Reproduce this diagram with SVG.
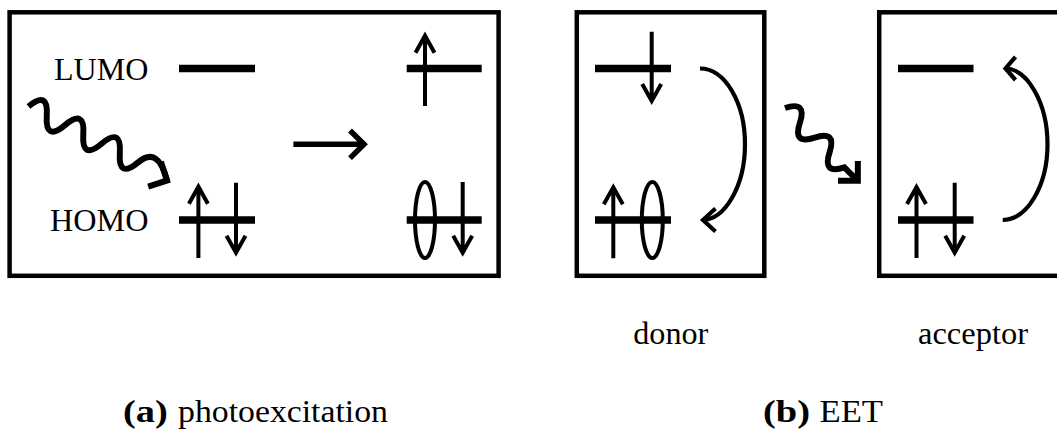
<svg xmlns="http://www.w3.org/2000/svg" width="1057" height="430" viewBox="0 0 1057 430">
<style>
.box{fill:none;stroke:#000;stroke-width:4.5}
.lvl{fill:none;stroke:#000;stroke-width:7.5}
.spin{fill:none;stroke:#000;stroke-width:4;stroke-linejoin:miter}
.wave{fill:none;stroke:#000;stroke-width:6;stroke-linejoin:miter;stroke-linecap:butt}
.cur{fill:none;stroke:#000;stroke-width:4.2;stroke-linejoin:miter}
.mid{fill:none;stroke:#000;stroke-width:5.5;stroke-linejoin:miter}
.t{font-family:"Liberation Serif","Times New Roman",serif;font-size:31px;fill:#000}
.b{font-weight:bold}
</style>
<rect width="1057" height="430" fill="#fff"/>
<g id="panel-a">
  <rect class="box" x="9.6" y="12.3" width="489" height="263.5"/>
  <text class="t" x="54" y="80" textLength="94.5" lengthAdjust="spacingAndGlyphs">LUMO</text>
  <text class="t" x="50" y="230.7" textLength="98.5" lengthAdjust="spacingAndGlyphs">HOMO</text>
  <g id="a-ground">
    <path class="lvl" d="M179,68.5H255M179,220H255"/>
    <path class="spin" d="M198.4,258V186.7M188.9,203.7L198.4,186.7L207.9,203.7"/>
    <path class="spin" d="M236,182.7V252.7M226.5,235.7L236,252.7L245.5,235.7"/>
  </g>
  <g id="a-excited">
    <path class="lvl" d="M406.7,68.5H481.7M406.7,220H481.7"/>
    <path class="spin" d="M425,106V35.7M415.5,52.7L425,35.7L434.5,52.7"/>
    <ellipse class="spin" cx="425" cy="220" rx="10" ry="38"/>
    <path class="spin" d="M462.7,182V252.7M453.2,235.7L462.7,252.7L472.2,235.7"/>
  </g>
</g>
<g id="donor">
  <rect class="box" x="576.8" y="12.3" width="187.5" height="263.5"/>
  <path class="lvl" d="M595,68.5H671M595,220H671"/>
  <path class="spin" d="M651.7,31.7V101M642.2,84L651.7,101L661.2,84"/>
  <path class="spin" d="M613.3,258.3V187.3M603.8,204.3L613.3,187.3L622.8,204.3"/>
  <ellipse class="spin" cx="652.3" cy="220" rx="10.5" ry="38"/>
</g>
<g id="acceptor">
  <rect class="box" x="879.2" y="12.3" width="187.5" height="263.5"/>
  <path class="lvl" d="M898,68.5H973.5M898,220H973.5"/>
  <path class="spin" d="M916.5,258V187M907,204L916.5,187L926,204"/>
  <path class="spin" d="M954.7,182.7V252.7M945.2,235.7L954.7,252.7L964.2,235.7"/>
</g>
<g id="labels">
  <text class="t" x="633.3" y="344" textLength="75" lengthAdjust="spacingAndGlyphs">donor</text>
  <text class="t" x="918" y="344" textLength="110" lengthAdjust="spacingAndGlyphs">acceptor</text>
  <text class="t b" x="123" y="422" textLength="44.8" lengthAdjust="spacingAndGlyphs">(a)</text>
  <text class="t" x="178" y="422" textLength="210" lengthAdjust="spacingAndGlyphs">photoexcitation</text>
  <text class="t b" x="763" y="422" textLength="47" lengthAdjust="spacingAndGlyphs">(b)</text>
  <text class="t" x="819.5" y="422" textLength="63.5" lengthAdjust="spacingAndGlyphs">EET</text>
</g>
<g id="connectors">
  <g transform="translate(28.5,106.5) rotate(27)">
    <path class="wave" d="M0,0Q10.25,-24 20.5,0T41,0T61.5,0T82,0T102.5,0T123,0T157,3"/>
    <path class="wave" d="M143,-11L157,3L143,17"/>
  </g>
  <path class="mid" d="M293.4,144.3H362M350,130.5L364,144.3L350,158.1"/>
  <path class="cur" d="M700,68.5C724.9,68.5 745,102.5 745,144.3C745,186 724.9,220 702,220"/>
  <path class="cur" d="M715.5,208.5L703,220L715.5,231.5"/>
  <g transform="translate(785,108) rotate(45)">
    <path class="wave" d="M0,0Q10.5,-21 21,0T42,0T63,0T84,0L103,0"/>
    <path class="wave" d="M89,-14L103,0L89,14"/>
  </g>
  <path class="cur" d="M1002.7,220C1027,220 1047.5,186 1047.5,144.3C1047.5,102.5 1027,68.5 1005,68.5"/>
  <path class="cur" d="M1015.5,56.8L1005.5,68.5L1015.5,80"/>
</g>
</svg>
